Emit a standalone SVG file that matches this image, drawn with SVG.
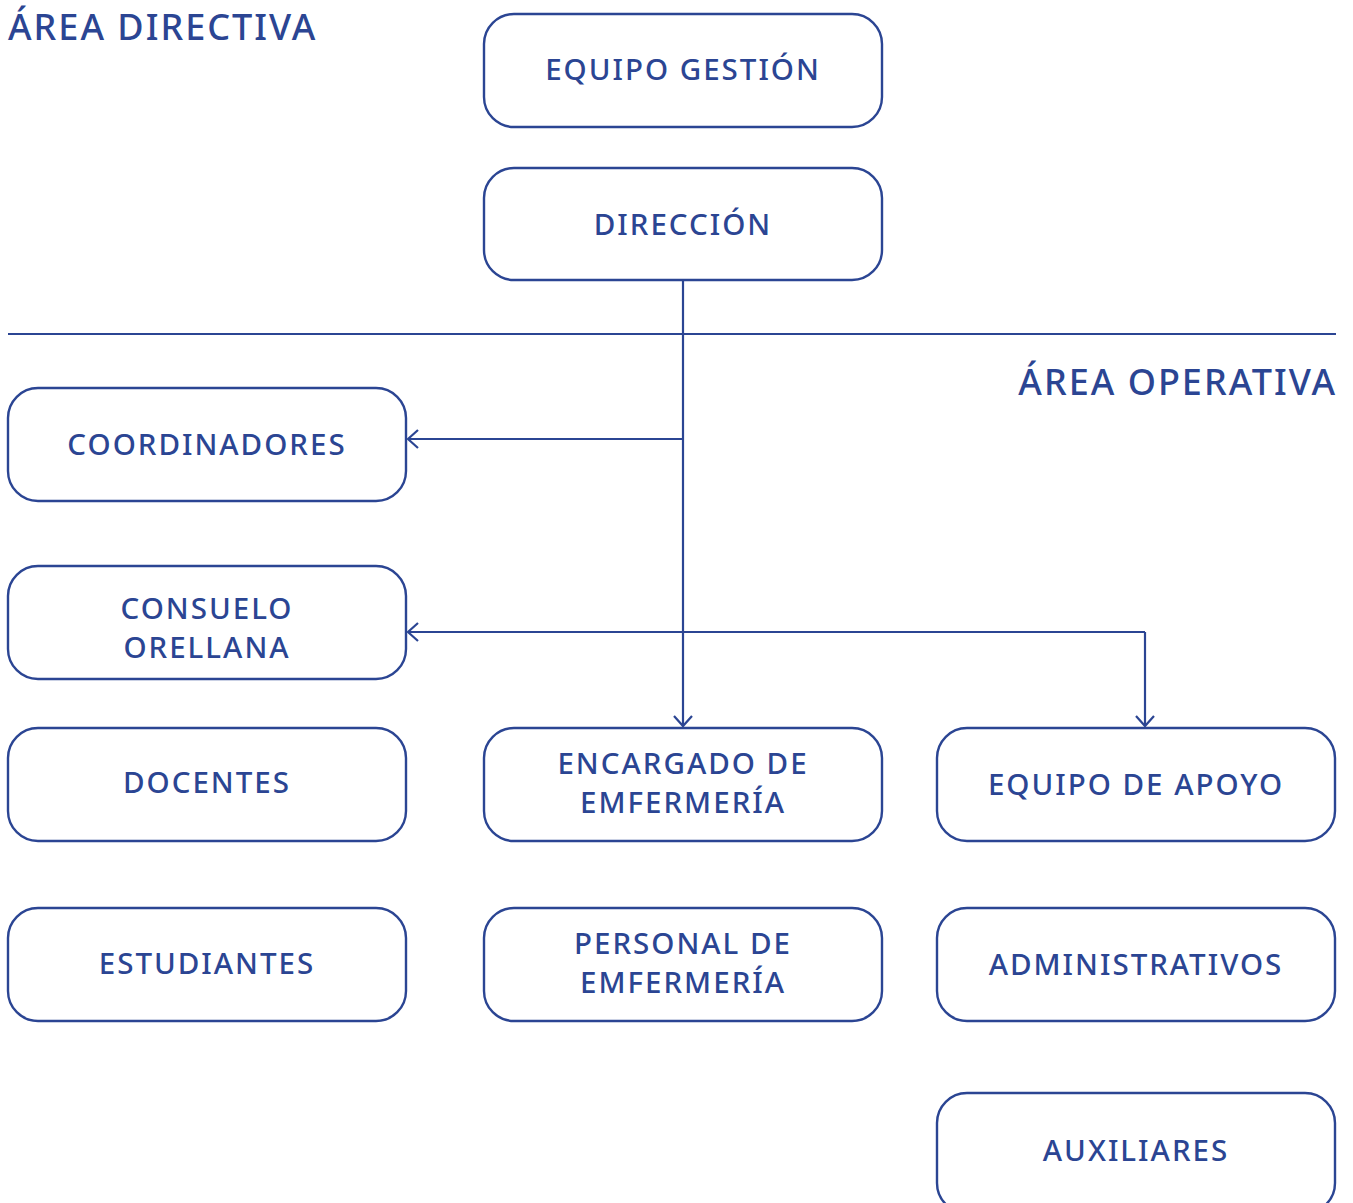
<svg xmlns="http://www.w3.org/2000/svg" width="1353" height="1203" viewBox="0 0 1353 1203">
<style>
.box{fill:#fff;stroke:#2B4593;stroke-width:2.4}
.t{font-family:"Noto Sans","Open Sans",sans-serif;font-size:29.5px;fill:#2B4593;text-anchor:middle;letter-spacing:2px;font-weight:500}
.h{font-family:"Noto Sans","Open Sans",sans-serif;font-size:36px;fill:#2B4593;letter-spacing:2px;font-weight:500}
.c{fill:none;stroke:#2B4593;stroke-width:2.2}
</style>
<defs>
<marker id="arr" viewBox="0 0 14 22" refX="12" refY="11" markerWidth="14" markerHeight="22" markerUnits="userSpaceOnUse" orient="auto">
<path d="M2,2 L12,11 L2,20" fill="none" stroke="#2B4593" stroke-width="2.2"/>
</marker>
</defs>
<rect width="1353" height="1203" fill="#fff"/>
<text class="h" x="8" y="40">ÁREA DIRECTIVA</text>
<text class="h" x="1337" y="395" text-anchor="end">ÁREA OPERATIVA</text>
<line x1="8" y1="334" x2="1336" y2="334" class="c"/>
<g id="connectors">
<line class="c" x1="683" y1="280" x2="683" y2="726" marker-end="url(#arr)"/>
<line class="c" x1="683" y1="439" x2="408" y2="439" marker-end="url(#arr)"/>
<polyline class="c" points="1145,632 1145,726" marker-end="url(#arr)"/>
<polyline class="c" points="1145,632 408,632" marker-end="url(#arr)"/>
</g>
<g id="equipo-gestion"><rect class="box" x="484" y="14" width="398" height="113" rx="30"/><text class="t" x="683" y="80">EQUIPO GESTIÓN</text></g>
<g id="direccion"><rect class="box" x="484" y="168" width="398" height="112" rx="30"/><text class="t" x="683" y="235">DIRECCIÓN</text></g>
<g id="coordinadores"><rect class="box" x="8" y="388" width="398" height="113" rx="30"/><text class="t" x="207" y="455">COORDINADORES</text></g>
<g id="consuelo"><rect class="box" x="8" y="566" width="398" height="113" rx="30"/><text class="t" x="207" y="619">CONSUELO</text><text class="t" x="207" y="658">ORELLANA</text></g>
<g id="docentes"><rect class="box" x="8" y="728" width="398" height="113" rx="30"/><text class="t" x="207" y="793">DOCENTES</text></g>
<g id="encargado"><rect class="box" x="484" y="728" width="398" height="113" rx="30"/><text class="t" x="683" y="774">ENCARGADO DE</text><text class="t" x="683" y="813">EMFERMERÍA</text></g>
<g id="equipo-apoyo"><rect class="box" x="937" y="728" width="398" height="113" rx="30"/><text class="t" x="1136" y="795">EQUIPO DE APOYO</text></g>
<g id="estudiantes"><rect class="box" x="8" y="908" width="398" height="113" rx="30"/><text class="t" x="207" y="974">ESTUDIANTES</text></g>
<g id="personal"><rect class="box" x="484" y="908" width="398" height="113" rx="30"/><text class="t" x="683" y="954">PERSONAL DE</text><text class="t" x="683" y="993">EMFERMERÍA</text></g>
<g id="administrativos"><rect class="box" x="937" y="908" width="398" height="113" rx="30"/><text class="t" x="1136" y="975">ADMINISTRATIVOS</text></g>
<g id="auxiliares"><rect class="box" x="937" y="1093" width="398" height="120" rx="30"/><text class="t" x="1136" y="1161">AUXILIARES</text></g>
</svg>
